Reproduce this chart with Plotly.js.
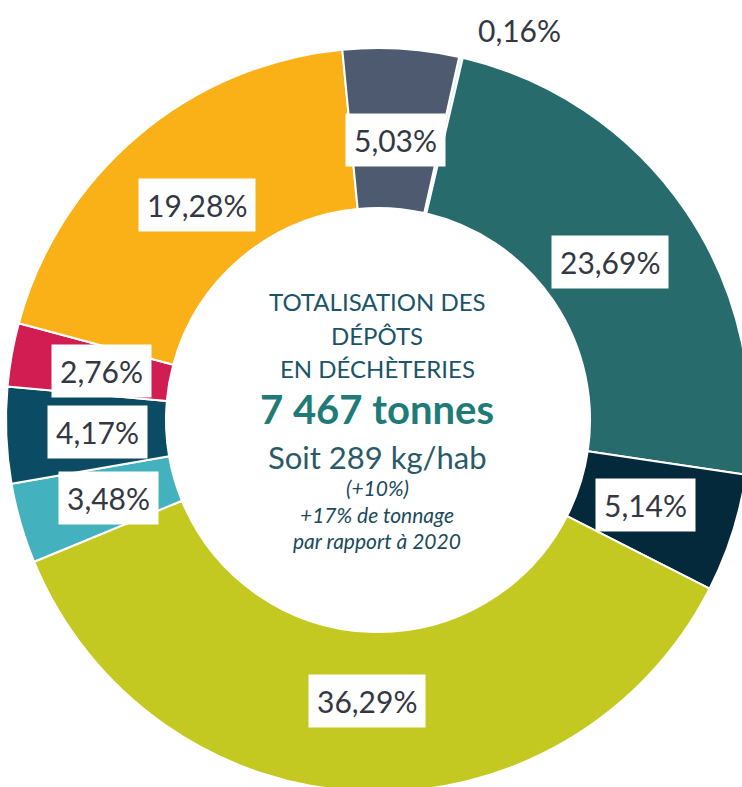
<!DOCTYPE html>
<html>
<head>
<meta charset="utf-8">
<script src="https://cdn.plot.ly/plotly-3.0.1.min.js"></script>
<style>
html, body { margin:0; padding:0; width:742px; height:787px; overflow:hidden; background:#ffffff; }
#chart { position:absolute; left:0px; top:0px; width:760px; height:800px; }
</style>
</head>
<body>
<div id="chart"></div>
<script>
// Data (shares of deposits, %), clockwise from the top
const categories = ["Catégorie A", "Catégorie B", "Catégorie C", "Catégorie D", "Catégorie E", "Catégorie F", "Catégorie G", "Catégorie H", "Catégorie I"];
const shares = [0.16, 23.69, 5.14, 36.29, 3.48, 4.17, 2.76, 19.28, 5.03];
const sliceColors = ["#e2eef0", "#276b6d", "#04293a", "#c3c920", "#44b2be", "#0b4b64", "#d11d51", "#f9b117", "#4d5a70"];
const centerLines = ["TOTALISATION DES", "DÉPÔTS", "EN DÉCHÈTERIES"];
const totalText = "7 467 tonnes";
const perHabText = "Soit 289 kg/hab";
const noteLines = ["(+10%)", "+17% de tonnage", "par rapport à 2020"];

const W = 760, H = 800;
const PIE = 744, OFF_X = 6, OFF_Y = 48;
const ROT = 12.6;
const CX = OFF_X + PIE / 2, CY = OFF_Y + PIE / 2;
const px = (x) => x / W;
const py = (y) => 1 - y / H;

const fmt = (v) => v.toFixed(2).replace('.', ',') + '%';
const total = shares.reduce((a, b) => a + b, 0);

const annotations = [];
let cum = 0;
shares.forEach((v, i) => {
  const mid = ROT + (cum + v / 2) / total * 360;
  cum += v;
  let ang = mid, rl = 281, boxed = true;
  if (v < 1) { ang = mid + 7; rl = 415; boxed = false; }
  const a = ang * Math.PI / 180;
  annotations.push({
    xref: 'paper', yref: 'paper',
    x: px(CX + rl * Math.sin(a)), y: py(CY - rl * Math.cos(a)),
    xanchor: 'center', yanchor: 'middle',
    text: fmt(v), showarrow: false,
    font: { family: 'Lato, sans-serif', size: 30, color: '#343842' },
    bgcolor: boxed ? '#ffffff' : 'rgba(0,0,0,0)',
    borderpad: boxed ? 8 : 2
  });
});

const titleColor = '#1b5468';
const centerY = [302, 336, 368];
centerLines.forEach((t, i) => {
  annotations.push({ xref:'paper', yref:'paper', x: px(377), y: py(centerY[i]), xanchor:'center', yanchor:'middle',
    text: t, showarrow:false, font:{ family:'Lato, sans-serif', size:24, color:titleColor } });
});
annotations.push({ xref:'paper', yref:'paper', x: px(377), y: py(409), xanchor:'center', yanchor:'middle',
  text: '<b>' + totalText + '</b>', showarrow:false, font:{ family:'Lato, sans-serif', size:40, color:'#1e7b78' } });
annotations.push({ xref:'paper', yref:'paper', x: px(377), y: py(457), xanchor:'center', yanchor:'middle',
  text: perHabText, showarrow:false, font:{ family:'Lato, sans-serif', size:31, color:'#285b66' } });
const noteY = [487, 514, 540];
noteLines.forEach((t, i) => {
  annotations.push({ xref:'paper', yref:'paper', x: px(377), y: py(noteY[i]), xanchor:'center', yanchor:'middle',
    text: '<i>' + t + '</i>', showarrow:false, font:{ family:'Lato, sans-serif', size:21, color:'#1b4a5c' } });
});

const trace = {
  type: 'pie',
  labels: categories,
  values: shares,
  sort: false,
  direction: 'clockwise',
  rotation: ROT,
  hole: 0.57,
  textinfo: 'none',
  hoverinfo: 'skip',
  marker: { colors: sliceColors, line: { color: '#ffffff', width: 2 } },
  domain: { x: [OFF_X / W, (OFF_X + PIE) / W], y: [1 - (OFF_Y + PIE) / H, 1 - OFF_Y / H] }
};

Plotly.newPlot('chart', [trace], {
  width: W, height: H,
  margin: { l: 0, r: 0, t: 0, b: 0, pad: 0 },
  showlegend: false,
  paper_bgcolor: 'rgba(0,0,0,0)',
  annotations: annotations
}, { staticPlot: true, displayModeBar: false });
</script>
</body>
</html>
